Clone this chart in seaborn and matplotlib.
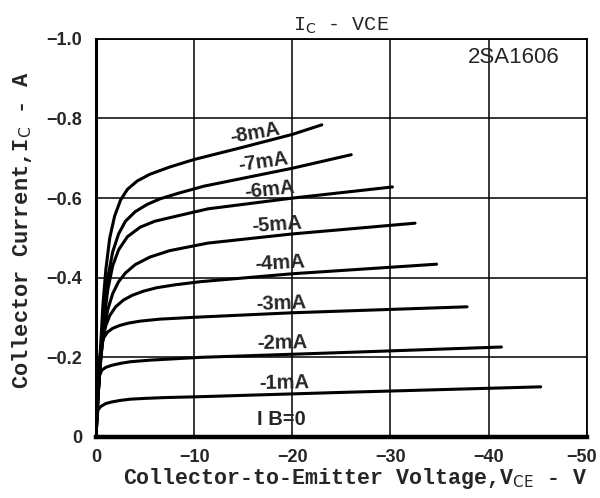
import matplotlib
matplotlib.use("Agg")
import matplotlib.pyplot as plt
import matplotlib.transforms as mtransforms
import pandas as pd
import seaborn as sns

# collector-emitter voltage (V) and collector current (A) for each base current
ib_labels = ["-1mA", "-2mA", "-3mA", "-4mA", "-5mA", "-6mA", "-7mA", "-8mA"]

vce_1 = [0, -0.05, -0.2, -0.5, -1.0, -1.6, -2.5, -3.5, -5.0, -7.0, -10.3, -25, -45.3]
ic_1 = [0, -0.04, -0.068, -0.077, -0.084, -0.088, -0.092, -0.095, -0.097, -0.099, -0.101, -0.112, -0.126]

vce_2 = [0, -0.1, -0.2, -0.35, -0.6, -1.0, -1.6, -2.5, -3.5, -5.5, -10.6, -25, -41.3]
ic_2 = [0, -0.08, -0.12, -0.155, -0.168, -0.175, -0.180, -0.185, -0.189, -0.193, -0.200, -0.212, -0.226]

vce_3 = [0, -0.15, -0.3, -0.5, -0.8, -1.2, -1.7, -2.4, -3.3, -4.5, -6.5, -10.3, -20, -37.8]
ic_3 = [0, -0.10, -0.18, -0.225, -0.250, -0.264, -0.273, -0.280, -0.286, -0.291, -0.296, -0.301, -0.312, -0.327]

vce_4 = [0, -0.2, -0.4, -0.7, -1.0, -1.4, -2.0, -2.8, -3.7, -4.8, -6.2, -8.0, -10.6, -20, -34.7]
ic_4 = [0, -0.10, -0.18, -0.245, -0.280, -0.305, -0.327, -0.344, -0.356, -0.366, -0.375, -0.382, -0.390, -0.410, -0.434]

vce_5 = [0, -0.2, -0.5, -0.8, -1.2, -1.7, -2.3, -3.0, -4.0, -5.5, -7.5, -11.4, -20, -32.5]
ic_5 = [0, -0.10, -0.20, -0.27, -0.32, -0.36, -0.39, -0.412, -0.433, -0.452, -0.468, -0.487, -0.510, -0.537]

vce_6 = [0, -0.2, -0.5, -0.8, -1.2, -1.7, -2.3, -3.2, -4.5, -6.0, -7.9, -11.4, -20, -30.2]
ic_6 = [0, -0.10, -0.20, -0.29, -0.37, -0.43, -0.47, -0.503, -0.527, -0.542, -0.553, -0.573, -0.600, -0.628]

vce_7 = [0, -0.2, -0.5, -0.8, -1.2, -1.7, -2.3, -3.0, -4.0, -5.2, -6.5, -8.5, -11, -15, -20, -26]
ic_7 = [0, -0.10, -0.21, -0.31, -0.40, -0.465, -0.51, -0.542, -0.566, -0.584, -0.598, -0.613, -0.630, -0.650, -0.675, -0.709]

vce_8 = [0, -0.2, -0.45, -0.7, -1.0, -1.4, -1.9, -2.5, -3.2, -4.2, -5.5, -7.5, -10, -15, -20, -23]
ic_8 = [0, -0.10, -0.22, -0.33, -0.42, -0.50, -0.555, -0.595, -0.622, -0.643, -0.660, -0.678, -0.697, -0.728, -0.760, -0.784]

vce_all = [vce_1, vce_2, vce_3, vce_4, vce_5, vce_6, vce_7, vce_8]
ic_all = [ic_1, ic_2, ic_3, ic_4, ic_5, ic_6, ic_7, ic_8]

# label anchor points (V, A) and slant of each curve label
label_v = [-19.2, -19.0, -18.9, -18.7, -18.4, -17.7, -17.0, -16.2]
label_i = [-0.136, -0.236, -0.336, -0.437, -0.533, -0.620, -0.690, -0.762]
label_rot = [1, 1, 2, 3, 4, 6, 8, 10]

x_ticks = [0, -10, -20, -30, -40, -50]
y_ticks = [0, -0.2, -0.4, -0.6, -0.8, -1.0]
x_ticklabels = ["0", "\u221210", "\u221220", "\u221230", "\u221240", "\u221250"]
y_ticklabels = ["0", "\u22120.2", "\u22120.4", "\u22120.6", "\u22120.8", "\u22121.0"]

frames = []
for name, v, i in zip(ib_labels, vce_all, ic_all):
    frames.append(pd.DataFrame({"VCE": v, "IC": i, "IB": name}))
df = pd.concat(frames, ignore_index=True)

sns.set_style("white")
plt.rcParams["font.family"] = ["Liberation Sans", "DejaVu Sans"]

fig = plt.figure(figsize=(6.0, 4.98), dpi=100)
ax = fig.add_axes([0.16, 0.1225, 0.818, 0.7995])

sns.lineplot(data=df, x="VCE", y="IC", units="IB", estimator=None,
             color="black", lw=2.2, sort=False, ax=ax)

ax.set_xlim(0, -50)
ax.set_ylim(0, -1.0)
ax.set_xticks(x_ticks)
ax.set_yticks(y_ticks)
ax.set_xticklabels(x_ticklabels)
ax.set_yticklabels(y_ticklabels)
ax.tick_params(axis="x", length=0, pad=9, labelsize=13)
ax.tick_params(axis="y", length=0, pad=10, labelsize=13)
for lab in ax.get_xticklabels() + ax.get_yticklabels():
    lab.set_fontweight("bold")
# last x tick label sits at the figure edge, nudge it left a little
last = ax.get_xticklabels()[-1]
last.set_transform(last.get_transform() +
                   mtransforms.ScaledTranslation(-5 / 100, 0, fig.dpi_scale_trans))

ax.grid(True, color="black", lw=1.1)
for side in ["top", "right"]:
    ax.spines[side].set_linewidth(1.3)
ax.spines["left"].set_linewidth(2.2)
ax.spines["bottom"].set_linewidth(3.2)
for sp in ax.spines.values():
    sp.set_color("black")

mono = ["Liberation Mono", "DejaVu Sans Mono"]
ax.set_xlabel("Collector-to-Emitter Voltage,V$_{\\rm CE}$ - V", fontsize=15.6,
              family=mono, fontweight="bold", labelpad=0)
ax.xaxis.label.set_x(0.528)
ax.set_ylabel("Collector Current,I$_{\\rm C}$ - A", fontsize=15.8,
              family=mono, fontweight="bold", labelpad=9)
ax.yaxis.label.set_y(0.52)
ax.set_title("I$_{\\rm C}$ - VCE", fontsize=14.5, pad=6, family=mono)

lab_font = ["Liberation Sans", "DejaVu Sans"]
for name, v, i, r in zip(ib_labels, label_v, label_i, label_rot):
    ax.text(v, i, name, fontsize=14.5, ha="center", va="center", rotation=r,
            family=lab_font, fontweight="bold")
ax.text(-18.9, -0.045, "I B=0", fontsize=14.5, ha="center", va="center",
        family=lab_font, fontweight="bold")
ax.text(-42.6, -0.953, "2SA1606", fontsize=16, ha="center", va="center",
        family=lab_font)

fig.savefig("out.png", dpi=100)
